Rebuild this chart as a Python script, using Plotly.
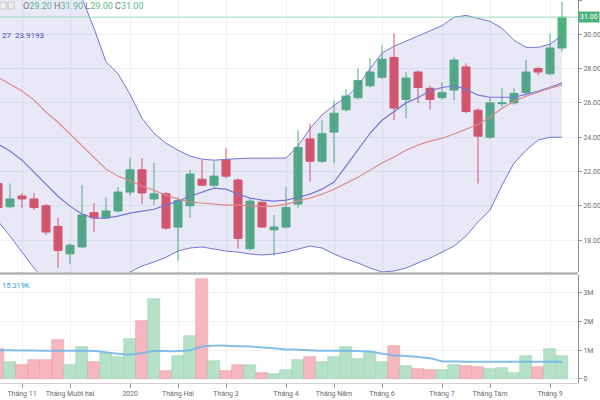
import pandas as pd
import plotly.graph_objects as go

# ---------------- data (weekly candles) ----------------
dates = list(pd.date_range("2019-10-21", periods=48, freq="7D"))

opens = [21.3, 19.95, 20.57, 20.4, 20.0, 18.8, 17.2, 17.6, 19.6, 19.3,
         19.7, 20.8, 22.1, 20.4, 20.7, 18.76, 20.0, 21.55, 21.2, 22.7,
         21.5, 17.5, 20.2, 18.6, 18.76, 20.1, 23.9, 22.6, 24.3, 25.6,
         26.3, 27.0, 27.5, 28.65, 26.2, 27.8, 26.85, 26.3, 26.75, 28.1,
         25.57, 24.0, 25.95, 26.0, 26.6, 28.0, 27.7, 29.2]
highs = [21.5, 21.3, 20.75, 20.75, 20.1, 19.3, 17.8, 21.2, 20.16, 20.5,
         21.1, 22.8, 22.78, 22.5, 20.8, 20.5, 22.1, 22.66, 22.6, 23.36,
         21.6, 20.4, 20.3, 19.46, 21.1, 24.4, 24.8, 25.0, 26.15, 26.8,
         28.0, 28.6, 29.35, 30.05, 27.8, 27.9, 27.0, 27.2, 28.66, 28.3,
         25.7, 26.3, 26.85, 26.85, 28.5, 28.1, 30.05, 31.9]
lows = [19.8, 19.85, 19.87, 19.75, 18.3, 16.4, 16.6, 17.55, 18.47, 19.25,
        19.6, 20.6, 20.1, 20.04, 18.6, 16.8, 19.3, 21.15, 21.1, 21.6,
        17.5, 17.4, 18.7, 17.1, 18.7, 19.87, 21.4, 22.5, 22.5, 25.5,
        26.2, 26.9, 27.4, 25.0, 25.1, 26.0, 25.6, 26.2, 26.15, 25.4,
        21.3, 23.9, 25.75, 25.9, 26.5, 27.6, 27.6, 29.0]
closes = [19.9, 20.4, 20.4, 19.9, 18.47, 17.4, 17.7, 19.46, 19.3, 19.7,
          20.8, 22.1, 20.75, 20.7, 18.7, 20.3, 21.85, 21.2, 21.73, 21.73,
          18.1, 20.27, 18.76, 18.76, 19.9, 23.4, 22.6, 24.2, 25.4, 26.4,
          27.3, 27.8, 28.55, 25.7, 27.45, 26.9, 26.2, 26.6, 28.5, 25.5,
          24.06, 26.0, 26.0, 26.55, 27.8, 27.8, 29.2, 31.0]

# volume in millions
volumes = [1.05, 0.59, 0.47, 0.67, 0.67, 1.37, 0.47, 1.11, 0.59, 0.90,
           0.75, 1.40, 2.03, 2.79, 0.27, 0.79, 1.48, 3.47, 0.64, 0.29,
           0.50, 0.50, 0.20, 0.19, 0.31, 0.67, 0.77, 0.58, 0.77, 1.11,
           0.70, 0.93, 0.59, 1.15, 0.44, 0.35, 0.32, 0.30, 0.50, 0.46,
           0.42, 0.35, 0.38, 0.21, 0.81, 0.40, 1.06, 0.81]
vol_ma = [1.0, 1.0, 0.99, 0.99, 0.98, 0.98, 0.98, 0.98, 0.97, 0.93,
          0.88, 0.85, 0.90, 0.97, 0.97, 0.97, 1.0, 1.13, 1.16, 1.16,
          1.14, 1.13, 1.10, 1.07, 1.03, 1.02, 1.0, 0.98, 0.98, 0.98,
          0.97, 0.96, 0.88, 0.82, 0.80, 0.77, 0.72, 0.62, 0.61, 0.60,
          0.60, 0.60, 0.60, 0.60, 0.60, 0.60, 0.60, 0.60]

bb_upper = [38.0, 37.0, 36.0, 35.0, 34.2, 33.5, 32.8, 32.1, 30.35, 28.4,
            27.7, 26.5, 25.1, 24.23, 23.65, 23.24, 22.9, 22.72, 22.66, 22.72,
            22.75, 22.78, 22.78, 22.78, 22.78, 23.5, 24.5, 25.3, 25.86, 26.33,
            27.0, 28.0, 28.9, 29.3, 29.6, 29.9, 30.17, 30.5, 31.0, 31.1,
            30.93, 30.76, 30.35, 29.65, 29.24, 29.24, 29.42, 29.94]
bb_mid = [23.6, 23.19, 22.66, 21.96, 21.26, 20.56, 19.98, 19.52, 19.28, 19.28,
          19.4, 19.57, 19.69, 19.8, 20.04, 20.27, 20.56, 20.8, 21.03, 20.97,
          20.68, 20.45, 20.33, 20.27, 20.33, 20.5, 20.68, 20.97, 21.38, 22.31,
          23.3, 24.23, 24.99, 25.5, 26.0, 26.3, 26.7, 26.9, 27.0, 26.8,
          26.45, 26.33, 26.33, 26.33, 26.5, 26.68, 26.91, 27.15]
bb_lower = [19.1, 18.24, 17.3, 16.37, 15.56, 15.0, 14.6, 14.5, 14.6, 15.0,
            15.67, 16.14, 16.49, 16.72, 17.0, 17.36, 17.54, 17.6, 17.48, 17.36,
            17.3, 17.19, 17.13, 17.19, 17.3, 17.48, 17.65, 17.54, 17.19, 16.9,
            16.67, 16.37, 16.14, 16.2, 16.37, 16.67, 16.95, 17.3, 17.65, 18.24,
            19.05, 19.75, 21.2, 22.49, 23.24, 23.83, 24.0, 24.0]
ma_red = [27.5, 27.1, 26.7, 26.16, 25.46, 24.87, 24.18, 23.48, 22.78, 22.14,
          21.73, 21.44, 21.15, 20.91, 20.62, 20.39, 20.22, 20.16, 20.1, 20.04,
          20.04, 19.98, 19.95, 19.98, 20.1, 20.27, 20.45, 20.68, 20.97, 21.32,
          21.67, 22.08, 22.49, 22.84, 23.24, 23.54, 23.77, 23.94, 24.18, 24.47,
          24.76, 25.17, 25.69, 26.1, 26.39, 26.62, 26.85, 27.03]

month_ticks = ["2019-11-04", "2019-12-02", "2020-01-06", "2020-02-03", "2020-03-02",
               "2020-04-06", "2020-05-04", "2020-06-01", "2020-07-06", "2020-08-03",
               "2020-09-07"]
month_labels = ["Tháng 11", "Tháng Mười hai", "2020", "Tháng Hai", "Tháng 3",
                "Tháng 4", "Tháng Năm", "Tháng 6", "Tháng 7", "Tháng Tám", "Tháng 9"]
price_ticks = [18, 20, 22, 24, 26, 28, 30, 32]
vol_ticks = [0, 1, 2, 3]
vol_labels = ["0", "1M", "2M", "3M"]
last_price = 31.0

# ---------------- styling ----------------
GREEN = "#4cb27c"
RED = "#e5505e"
BAND = "#7676d4"
FILL = "rgba(110,110,200,0.16)"
GRID = "#edf1f3"
TXT = "#6b6b6b"
FONT = "Roboto"

W, H = 600, 400
ML, MR, MT, MB = 0, 22, 0, 17
ph = H - MT - MB
pw = W - ML - MR

x_start = dates[0] + pd.Timedelta(days=7 * 0.1667)
x_end = dates[0] + pd.Timedelta(days=7 * 48.33)

fig = go.Figure()

# bollinger fill
fig.add_trace(go.Scatter(x=dates, y=bb_lower, mode="lines", line=dict(color=BAND, width=1),
                         xaxis="x2", yaxis="y", hoverinfo="skip"))
fig.add_trace(go.Scatter(x=dates, y=bb_upper, mode="lines", line=dict(color=BAND, width=1),
                         fill="tonexty", fillcolor=FILL, xaxis="x2", yaxis="y", hoverinfo="skip"))
fig.add_trace(go.Scatter(x=dates, y=bb_mid, mode="lines", line=dict(color=BAND, width=1.2),
                         xaxis="x2", yaxis="y", hoverinfo="skip"))
fig.add_trace(go.Scatter(x=dates, y=ma_red, mode="lines", line=dict(color="#e28484", width=1.1),
                         xaxis="x2", yaxis="y", hoverinfo="skip"))

fig.add_trace(go.Candlestick(
    x=dates, open=opens, high=highs, low=lows, close=closes,
    increasing=dict(line=dict(color=GREEN, width=1), fillcolor=GREEN),
    decreasing=dict(line=dict(color=RED, width=1), fillcolor=RED),
    whiskerwidth=0, xaxis="x2", yaxis="y"))

vol_colors = ["#b5e1c9" if c >= o else "#f6b6be" for o, c in zip(opens, closes)]
vol_lines = ["#9dd3b5" if c >= o else "#eb9ca6" for o, c in zip(opens, closes)]
fig.add_trace(go.Bar(x=dates, y=volumes, marker=dict(color=vol_colors,
                     line=dict(color=vol_lines, width=0.6)),
                     xaxis="x", yaxis="y2"))
fig.add_trace(go.Scatter(x=dates, y=vol_ma, mode="lines",
                         line=dict(color="rgba(110,180,230,0.85)", width=2, shape="spline"),
                         xaxis="x", yaxis="y2", hoverinfo="skip"))

price_dom = [(ph - 272) / ph, 1]
vol_dom = [0, (ph - 275) / ph]

axis_common = dict(range=[x_start, x_end], tickvals=month_ticks, showgrid=True,
                   gridcolor=GRID, gridwidth=1, zeroline=False)
fig.update_layout(
    width=W, height=H, margin=dict(l=ML, r=MR, t=MT, b=MB),
    paper_bgcolor="white", plot_bgcolor="white", showlegend=False,
    boxgap=0.333, boxgroupgap=0, bargap=0,
    font=dict(family=FONT, size=7, color=TXT),
    xaxis=dict(**axis_common, domain=[0, 1], anchor="y2", ticktext=month_labels,
               ticks="outside", ticklen=4, tickcolor="#999", showline=True,
               linecolor="#cfcfcf", tickfont=dict(size=7, color=TXT),
               rangeslider=dict(visible=False)),
    xaxis2=dict(**axis_common, domain=[0, 1], anchor="y", matches="x",
                showticklabels=False, rangeslider=dict(visible=False)),
    yaxis=dict(domain=price_dom, anchor="x2", side="right", range=[16.14, 32.0],
               tickvals=price_ticks, ticktext=[f"{v:.2f}" for v in price_ticks],
               showgrid=True, gridcolor=GRID, zeroline=False, ticks="outside",
               ticklen=3, tickcolor="#999", showline=True, linecolor="#8c8c8c",
               tickfont=dict(size=7, color=TXT)),
    yaxis2=dict(domain=vol_dom, anchor="x", side="right", range=[-0.14, 3.62],
                tickvals=vol_ticks, ticktext=vol_labels, showgrid=True, gridcolor=GRID,
                zeroline=False, ticks="outside", ticklen=3, tickcolor="#999",
                showline=True, linecolor="#8c8c8c", tickfont=dict(size=7, color=TXT)),
)

# separator between panels
sep_y = (ph - 273.5) / ph
fig.add_shape(type="line", xref="paper", yref="paper", x0=0, x1=1, y0=sep_y, y1=sep_y,
              line=dict(color="#b4b4b4", width=2.5))
# last price line
fig.add_shape(type="line", xref="paper", yref="y", x0=0, x1=1, y0=last_price, y1=last_price,
              line=dict(color="#9ed9b9", width=1))
fig.add_annotation(xref="paper", yref="y", x=1, y=last_price, xanchor="left", yanchor="middle",
                   text=f"{last_price:.2f}", showarrow=False, bgcolor=GREEN,
                   font=dict(color="white", size=7, family=FONT), borderpad=1)

# legend-like texts
for x0 in (0, 8):
    fig.add_shape(type="rect", xref="paper", yref="paper",
                  x0=x0 / pw, x1=(x0 + 6) / pw, y0=1 - 9 / ph, y1=1 - 2 / ph,
                  line=dict(color="#c8c8c8", width=1), fillcolor="#efefef")
G = "#5cb88a"
ohlc = (f"<span style='color:#777'>O</span><span style='color:{G}'>{opens[-1]:.2f}</span> "
        f"<span style='color:#777'>H</span><span style='color:{G}'>{highs[-1]:.2f}</span> "
        f"<span style='color:#777'>L</span><span style='color:{G}'>{lows[-1]:.2f}</span> "
        f"<span style='color:#777'>C</span><span style='color:{G}'>{closes[-1]:.2f}</span>")
fig.add_annotation(xref="paper", yref="paper", x=21 / pw, y=1 - 6 / ph, xanchor="left",
                   yanchor="middle", text=ohlc, showarrow=False,
                   font=dict(size=9, family=FONT))
fig.add_annotation(xref="paper", yref="paper", x=0, y=1 - 35 / ph, xanchor="left",
                   yanchor="middle", text="27  23.9193", showarrow=False,
                   font=dict(size=8, family=FONT, color="#4a4ac4"))
fig.add_annotation(xref="paper", yref="paper", x=0, y=(ph - 285) / ph, xanchor="left",
                   yanchor="middle", text="15.319K", showarrow=False,
                   font=dict(size=7.5, family=FONT, color="#3a9ad9"))

fig.write_html("out.html")
